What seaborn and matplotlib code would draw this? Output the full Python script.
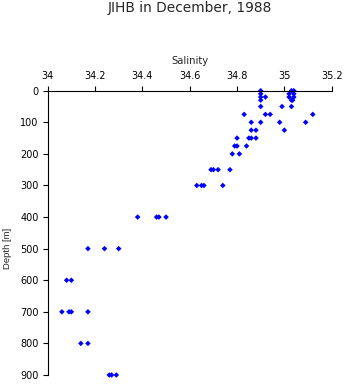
import matplotlib
matplotlib.use("Agg")
import matplotlib.pyplot as plt
import seaborn as sns
import pandas as pd

# Salinity profile samples (depth in metres, salinity)
depths = [0, 0, 0,
          10, 10, 10,
          20, 20, 20, 20,
          30, 30, 30,
          50, 50, 50,
          75, 75, 75, 75,
          100, 100, 100, 100,
          125, 125, 125,
          150, 150, 150, 150,
          175, 175, 175,
          200, 200,
          250, 250, 250, 250,
          300, 300, 300, 300,
          400, 400, 400, 400,
          500, 500, 500,
          600, 600,
          700, 700, 700, 700,
          800, 800,
          900, 900, 900]
salinity = [34.90, 35.03, 35.04,
            34.90, 35.02, 35.04,
            34.90, 34.92, 35.02, 35.04,
            34.90, 35.03, 35.035,
            34.90, 34.99, 35.03,
            34.83, 34.92, 34.94, 35.12,
            34.86, 34.90, 34.98, 35.09,
            34.86, 34.88, 35.00,
            34.80, 34.85, 34.86, 34.88,
            34.79, 34.80, 34.84,
            34.78, 34.81,
            34.69, 34.70, 34.72, 34.77,
            34.63, 34.65, 34.66, 34.74,
            34.38, 34.46, 34.47, 34.50,
            34.17, 34.24, 34.30,
            34.08, 34.10,
            34.06, 34.09, 34.10, 34.17,
            34.14, 34.17,
            34.26, 34.27, 34.29]

x_ticks = [34.0, 34.2, 34.4, 34.6, 34.8, 35.0, 35.2]
x_labels = ["34", "34.2", "34.4", "34.6", "34.8", "35", "35.2"]
y_ticks = [0, 100, 200, 300, 400, 500, 600, 700, 800, 900]

df = pd.DataFrame({"Salinity": salinity, "Depth": depths})

sns.set_style("white")
plt.rcParams["font.family"] = ["DejaVu Sans"]

W, H = 346, 384
fig = plt.figure(figsize=(W / 100, H / 100), dpi=100)
ax = fig.add_axes([47.7 / W, 1 - 375 / H, 284 / W, (375 - 90.7) / H])

sns.scatterplot(data=df, x="Salinity", y="Depth", marker="D", s=8,
                color="#0000ff", edgecolor="none", linewidth=0, ax=ax,
                clip_on=False, legend=False)

ax.set_xlim(34.0, 35.2)
ax.set_ylim(900, 0)
ax.xaxis.tick_top()
ax.set_xticks(x_ticks)
ax.set_xticklabels(x_labels)
ax.set_yticks(y_ticks)
ax.set_xlabel("")
ax.set_ylabel("")

for side in ("right", "bottom"):
    ax.spines[side].set_visible(False)
for side in ("top", "left"):
    ax.spines[side].set_color("black")
    ax.spines[side].set_linewidth(0.8)

ax.tick_params(axis="both", direction="out", length=3.6, width=0.8,
               color="black", labelcolor="black", labelsize=7)
ax.tick_params(axis="x", top=True, bottom=False, labeltop=True,
               labelbottom=False, pad=3.2)
ax.tick_params(axis="y", left=True, pad=3)

fig.text(190 / W, 1 - 8 / H, "JIHB in December, 1988", ha="center",
         va="center", fontsize=9.9)
fig.text(190 / W, 1 - 60.5 / H, "Salinity", ha="center", va="center",
         fontsize=7.2)
fig.text(7.5 / W, 1 - 248 / H, "Depth [m]", ha="center", va="center",
         rotation=90, fontsize=6.8, family=["Liberation Sans"])

fig.savefig("out.png", dpi=100)
